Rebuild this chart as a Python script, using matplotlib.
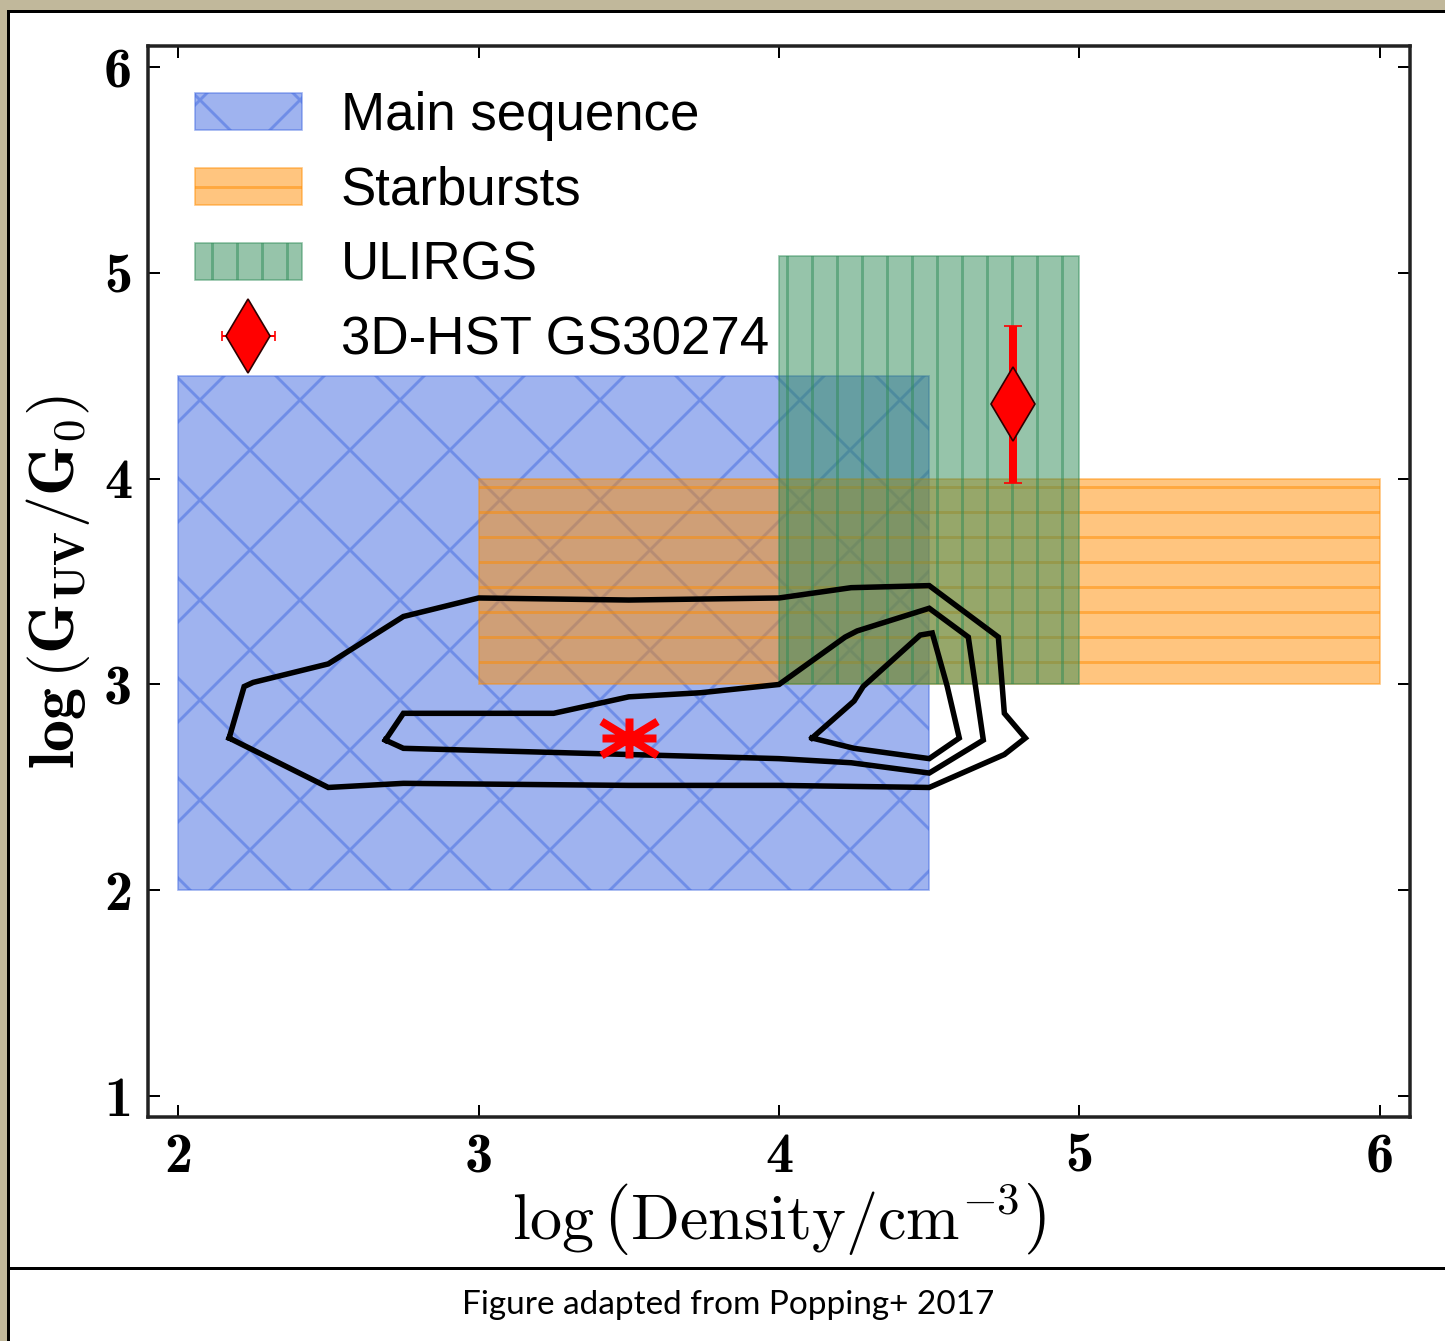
import numpy as np
import matplotlib
matplotlib.use('Agg')
import matplotlib.pyplot as plt
from matplotlib.patches import Rectangle
from matplotlib.path import Path
from matplotlib.lines import Line2D

plt.rcParams['mathtext.fontset'] = 'cm'
plt.rcParams['hatch.linewidth'] = 0.7

# ---------------- data ----------------
region_labels = ['Main sequence', 'Starbursts', 'ULIRGS']
region_x = [(2.0, 4.5), (3.0, 6.0), (4.0, 5.0)]
region_y = [(2.0, 4.5), (3.0, 4.0), (3.0, 5.08)]
region_colors = ['royalblue', 'darkorange', 'seagreen']
region_hatches = ['x', '--', '||']

obs_label = '3D-HST GS30274'
obs_x = [4.78]
obs_y = [4.36]
obs_yerr = [0.38]

model_x = [3.5]
model_y = [2.74]

contour_outer_x = [2.17, 2.22, 2.25, 2.50, 2.75, 3.00, 3.50, 4.00, 4.24, 4.50, 4.73, 4.75, 4.82, 4.75, 4.50, 4.00, 3.50, 2.75, 2.50, 2.17]
contour_outer_y = [2.74, 2.99, 3.01, 3.10, 3.33, 3.42, 3.41, 3.42, 3.47, 3.48, 3.23, 2.86, 2.74, 2.66, 2.50, 2.51, 2.51, 2.52, 2.50, 2.74]
contour_mid_x = [2.69, 2.75, 3.25, 3.50, 3.74, 4.00, 4.22, 4.26, 4.50, 4.63, 4.68, 4.50, 4.24, 4.00, 2.75, 2.69]
contour_mid_y = [2.73, 2.86, 2.86, 2.94, 2.96, 3.00, 3.23, 3.26, 3.37, 3.23, 2.73, 2.57, 2.62, 2.64, 2.69, 2.73]
contour_in_x = [4.11, 4.25, 4.28, 4.47, 4.51, 4.56, 4.60, 4.50, 4.25, 4.11]
contour_in_y = [2.74, 2.92, 2.99, 3.24, 3.25, 2.99, 2.74, 2.64, 2.69, 2.74]

xticks = [2, 3, 4, 5, 6]
yticks = [1, 2, 3, 4, 5, 6]
caption = 'Figure adapted from Popping+ 2017'

# ---------------- figure ----------------
W, H, DPI = 1445, 1341, 300
PX = 72.0 / DPI  # points per pixel

fig = plt.figure(figsize=(W / DPI, H / DPI), dpi=DPI)
fig.patch.set_facecolor('#c1b89b')
fig.add_artist(Rectangle((8 / W, -0.02), 1.05, (H - 11) / H + 0.02,
                         transform=fig.transFigure, facecolor='white',
                         edgecolor='black', linewidth=3 * PX, zorder=0))
fig.add_artist(Line2D([8 / W, 1.0], [(H - 1268) / H] * 2, transform=fig.transFigure,
                      color='black', lw=3 * PX, zorder=1))
fig.text(728 / W, (H - 1305) / H, caption, ha='center', va='center',
         fontfamily='Lato', fontsize=8.0)

ax = fig.add_axes([148 / W, (H - 1117) / H, (1410 - 148) / W, (1117 - 46) / H])
ax.set_zorder(2)

handles = []
for lab, (x0, x1), (y0, y1), c, h in zip(region_labels, region_x, region_y,
                                         region_colors, region_hatches):
    r = Rectangle((x0, y0), x1 - x0, y1 - y0, facecolor=c, edgecolor=c,
                  alpha=0.5, hatch=h, linewidth=0.4, label=lab, zorder=1)
    ax.add_patch(r)
    handles.append(r)

for cx, cy in [(contour_outer_x, contour_outer_y),
               (contour_mid_x, contour_mid_y),
               (contour_in_x, contour_in_y)]:
    ax.plot(cx, cy, color='black', lw=5.5 * PX, zorder=3, solid_joinstyle='miter')

# asterisk marker
ast = Path([(-27, 0), (27, 0), (0, -20), (0, 20), (-28, -17), (28, 17), (-28, 17), (28, -17)],
           [Path.MOVETO, Path.LINETO] * 4)
ax.plot(model_x, model_y, linestyle='none', marker=ast, ms=56 * PX,
        mfc='none', mec='red', mew=8 * PX, zorder=4)

ax.errorbar(obs_x, obs_y, yerr=obs_yerr, fmt='d', color='red', ms=52.3 * PX,
            mec='#300000', mew=0.4, ecolor='red', elinewidth=8 * PX,
            capsize=9 * PX, capthick=2.5 * PX, zorder=5)
proxy = ax.errorbar([np.nan], [np.nan], xerr=[0.1], fmt='d', color='red', ms=52.3 * PX,
                    mec='#300000', mew=0.4, ecolor='red', elinewidth=2 * PX,
                    capsize=5 * PX, capthick=2.5 * PX)
handles.append(proxy)

ax.set_xlim(1.9, 6.1)
ax.set_ylim(0.9, 6.1)
ax.set_xticks(xticks, labels=[str(t) for t in xticks], fontfamily='cmb10', fontsize=13.5)
ax.set_yticks(yticks, labels=[str(t) for t in yticks], fontfamily='cmb10', fontsize=13.5)
ax.tick_params(direction='in', length=12 * PX, width=2 * PX, top=True, right=True,
               pad=3.8, colors='black')
for s in ax.spines.values():
    s.set_linewidth(3.5 * PX)
    s.set_color('#222222')

ax.set_xlabel(r'$\mathrm{log}\,\left(\mathrm{Density/cm}^{-3}\right)$', fontsize=15.4, labelpad=-0.5)
ax.set_ylabel(r'$\mathbf{log}\,\left(\mathbf{G_{UV}/G_0}\right)$', fontsize=15.4, labelpad=3)

leg = ax.legend(handles, region_labels + [obs_label], loc='upper left',
                bbox_to_anchor=(0.0372, 0.958), frameon=False, borderpad=0,
                borderaxespad=0, prop={'family': 'Liberation Sans', 'size': 12.7},
                handlelength=2.02, handleheight=0.7, handletextpad=0.74,
                labelspacing=0.47, numpoints=1)

fig.savefig('out.png', dpi=DPI, facecolor=fig.get_facecolor())
